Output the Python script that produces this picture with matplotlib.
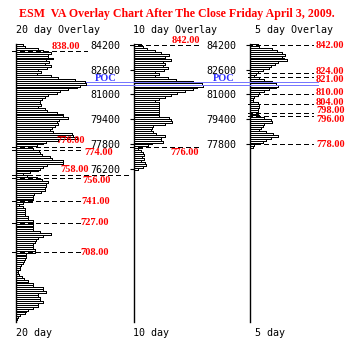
import matplotlib
matplotlib.use("Agg")
import matplotlib.pyplot as plt

# ESM overlay profiles, bar lengths per 1.25 pt price bin from the top (842.00) down
profile_20 = [
    7, 9, 22, 27, 35, 32, 32, 37, 30, 33, 29, 35, 31, 22, 25, 21, 35, 42, 59, 69,
    70, 64, 61, 52, 44, 41, 32, 29, 26, 24, 24, 25, 22, 29,
    31, 41, 47, 47, 52, 43, 41, 42, 39, 36, 34, 37, 56, 57, 61, 42, 30, 27, 21, 12,
    17, 23, 24, 26, 34, 36, 47, 47, 31, 27, 24, 22, 14, 7, 11,
    21, 26, 32, 30, 30, 29, 29, 25, 18, 17, 17, 17, 16, 7, 3, 7, 9, 9, 9, 9,
    12, 12, 17, 17, 17, 17, 17, 17, 24, 35, 27, 22, 20, 19, 17, 17,
    17, 19, 19, 10, 10, 10, 9, 8, 7, 5, 4, 4, 2, 2, 3, 6, 8, 12, 12, 17,
    17, 27, 27, 30, 22, 22, 24, 24, 27, 22, 22, 17, 12, 10, 9, 4, 2, 1,
]
profile_10 = [
    7, 9, 13, 21, 27, 35, 31, 31, 37, 29, 31, 29, 34, 30, 21, 25, 21, 34, 42, 59,
    68, 69, 63, 59, 51, 43, 37, 31, 25, 21, 25, 25, 25, 25, 25, 25, 25, 25, 35, 37,
    38, 31, 19, 18, 17, 19, 22, 31, 27, 27, 29, 18, 14, 8, 4, 7, 9, 10, 8, 10,
    7, 11, 12, 9, 4,
]
profile_5 = [
    8, 9, 22, 27, 32, 35, 32, 34, 37, 28, 25, 21, 19, 13, 8, 6, 4, 9, 14, 22,
    26, 28, 26, 19, 14, 9, 8, 4, 3, 3, 8, 9, 9, 8, 8, 8, 8, 9, 14, 21,
    22, 14, 13, 11, 9, 16, 23, 28, 21, 16, 13, 6, 4, 3,
]
top_price = 842.0
bin_size = 1.25
poc = 817.0

levels_20 = [838, 776, 774, 758, 756, 741, 727, 708]
levels_10 = [842, 776]
levels_5 = [842, 824, 821, 810, 804, 798, 796, 778]

ticks_10 = [842, 826, 810, 794, 778, 762]
ticks_5 = [842, 826, 810, 794, 778]

title = "ESM  VA Overlay Chart After The Close Friday April 3, 2009."
RED = "#ff0000"
POC_LINE = "#7777ff"
POC_TEXT = "#3030ff"
MONO = "DejaVu Sans Mono"
SERIF = "Liberation Serif"

W, H = 355, 356
fig = plt.figure(figsize=(W / 100, H / 100), dpi=100)
fig.patch.set_facecolor("white")


def px_axes(x0, width, y0=44, y1=322):
    return fig.add_axes([x0 / W, 1 - y1 / H, width / W, (y1 - y0) / H])


def draw_profile(ax, values, xmax):
    prices = [top_price - bin_size * i for i in range(len(values))]
    ax.barh(prices, values, height=bin_size, color="white", edgecolor="black",
            linewidth=0.5, antialiased=False, zorder=2)
    ax.set_xlim(0, xmax)
    ax.set_ylim(662.7, 842.65)
    for s in ("top", "right", "bottom"):
        ax.spines[s].set_visible(False)
    ax.spines["left"].set_linewidth(1.0)
    ax.tick_params(axis="x", bottom=False, labelbottom=False)
    ax.patch.set_visible(False)


def draw_level(ax, level, x0, x1, tx, dy):
    ax.plot([x0, x1], [level, level], color="black", lw=0.6, ls=(0, (5, 4)),
            clip_on=False, zorder=3, antialiased=False)
    ax.annotate(f"{level:.2f}", xy=(tx, level), xytext=(0, dy),
                textcoords="offset pixels", color=RED, fontsize=7.5,
                fontweight="bold", family=SERIF, ha="left", va="center",
                annotation_clip=False, zorder=5)


def draw_poc(ax, x0, x1, z):
    for d in (-1.0, 1.0):
        ax.plot([x0, x1], [poc + d, poc + d], color=POC_LINE, lw=0.5,
                clip_on=False, zorder=z, antialiased=False)


def set_ticks(ax, ticks):
    ax.set_yticks(ticks)
    ax.set_yticklabels([str(int(t * 100)) for t in ticks])
    ax.tick_params(axis="y", length=3, width=0.8, pad=7, labelsize=7.2)
    for lbl in ax.get_yticklabels():
        lbl.set_family(MONO)


ax1 = px_axes(16, 110)
ax2 = px_axes(134, 110)
ax3 = px_axes(250, 105)

draw_profile(ax1, profile_20, 110)
draw_profile(ax2, profile_10, 110)
draw_profile(ax3, profile_5, 105)

ax1.set_yticks([])
set_ticks(ax2, ticks_10)
set_ticks(ax3, ticks_5)

# 20 day levels
place_20 = [(71, 36, 5), (64, 40, 6), (64, 68, -2), (114, 44, 5),
            (64, 66, -3), (64, 65, 0), (64, 64, 0), (64, 64, 0)]
for lv, (x1, tx, dy) in zip(levels_20, place_20):
    draw_level(ax1, lv, -4, x1, tx, dy)

# 10 day levels
place_10 = [(64, 38, 5), (64, 36, -6)]
for lv, (x1, tx, dy) in zip(levels_10, place_10):
    draw_level(ax2, lv, -4, x1, tx, dy)

# 5 day levels
dy_5 = [0, 1, -2, 2, 1, 2, -3, -1]
for lv, dy in zip(levels_5, dy_5):
    draw_level(ax3, lv, -2, 63, 66, dy)

# POC markers
draw_poc(ax1, 0, 114, 1)
draw_poc(ax2, -9, 70, 4)
draw_poc(ax3, -50, 68, 4)
for ax, tx in ((ax2, -39), (ax3, -37)):
    ax.annotate("POC", xy=(tx, poc), xytext=(0, 5), textcoords="offset pixels",
                color=POC_TEXT, fontsize=7.5, fontweight="bold", family=SERIF,
                ha="left", va="center", annotation_clip=False)

fig.text(177 / W, 1 - 14 / H, title, ha="center", va="center", color=RED,
         family=SERIF, fontweight="bold", fontsize=8.6)

for x, name in ((16, "20 day"), (133, "10 day"), (255, "5 day")):
    fig.text(x / W, 1 - 30 / H, name + " Overlay", ha="left", va="center",
             family=MONO, fontsize=7.2)
    fig.text(x / W, 1 - 333 / H, name, ha="left", va="center",
             family=MONO, fontsize=7.2)

fig.savefig("out.png", dpi=100, facecolor="white")
